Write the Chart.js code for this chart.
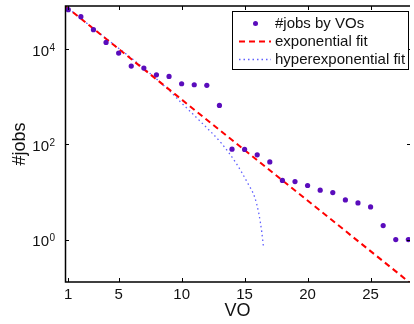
<!DOCTYPE html>
<html>
<head>
<meta charset="utf-8">
<script src="https://cdn.jsdelivr.net/npm/chart.js@4/dist/chart.umd.min.js"></script>
<style>
    html, body { margin: 0; padding: 0; background: #fff; }
    #wrap { width: 414px; height: 324px; }
</style>
</head>
<body>
<div id="wrap"><canvas id="jobs-chart" width="414" height="324"></canvas></div>
<script>
// Data
const voIndex = [1, 2, 3, 4, 5, 6, 7, 8, 9, 10, 11, 12, 13, 14, 15, 16, 17, 18, 19, 20, 21, 22, 23, 24, 25, 26, 27, 28];
const jobsByVO = [68200, 48600, 25900, 14000, 8360, 4450, 4040, 2920, 2700, 1890, 1800, 1750, 662, 79.6, 78.5, 60.4, 43, 17.5, 16.6, 13.7, 10.9, 9.75, 6.8, 5.9, 4.85, 1.97, 1, 1];

const expFitX = [0.75, 28.1];
const expFitY = [81600, 0.125];

const hypFitX = [0.75, 4, 7, 8.98, 9.9, 11.6, 13.17, 14.34, 15.26, 15.79, 16.13, 16.36, 16.51];
const hypFitY = [81600, 17000, 4000, 1390, 789, 285, 105, 39.8, 15.1, 7.9, 3.5, 1.45, 0.65];

const xTicks = [1, 5, 10, 15, 20, 25];
const yTicks = [1, 100, 10000];
const yTickExp = ['0', '2', '4'];

const seriesLabels = ['#jobs by VOs', 'exponential fit', 'hyperexponential fit'];

const FONT = "'Liberation Sans', Arial, sans-serif";
const DOT_COLOR = '#5a0cbc';
const EXP_COLOR = '#ff0000';
const HYP_COLOR = '#5f5fff';

function toPoints(xs, ys) {
    return xs.map((x, i) => ({ x: x, y: ys[i] }));
}

// ==========================================================
// AXES, TICKS, TITLES AND LEGEND (drawn by hand, matlab-like)
// ==========================================================
const frameDecor = {
    id: 'frameDecor',
    afterDraw(chart) {
        const ctx = chart.ctx;
        const area = chart.chartArea;
        const xs = chart.scales.x;
        const ys = chart.scales.y;

        ctx.save();
        ctx.strokeStyle = '#000';
        ctx.lineWidth = 1.5;
        ctx.beginPath();
        ctx.moveTo(area.right, area.top);
        ctx.lineTo(area.left + 0.5, area.top);
        ctx.lineTo(area.left + 0.5, area.bottom);
        ctx.lineTo(area.right, area.bottom);
        ctx.stroke();

        // inward ticks
        ctx.lineWidth = 1;
        ctx.beginPath();
        xTicks.forEach(v => {
            const px = Math.round(xs.getPixelForValue(v)) + 0.5;
            ctx.moveTo(px, area.bottom);
            ctx.lineTo(px, area.bottom - 4);
            ctx.moveTo(px, area.top);
            ctx.lineTo(px, area.top + 4);
        });
        yTicks.forEach(v => {
            const py = Math.round(ys.getPixelForValue(v)) + 0.5;
            ctx.moveTo(area.left, py);
            ctx.lineTo(area.left + 4, py);
            ctx.moveTo(area.right, py);
            ctx.lineTo(area.right - 3, py);
        });
        ctx.stroke();

        // tick labels
        ctx.fillStyle = '#111';
        ctx.font = '15px ' + FONT;
        ctx.textAlign = 'center';
        ctx.textBaseline = 'middle';
        xTicks.forEach(v => {
            ctx.fillText(String(v), xs.getPixelForValue(v), area.bottom + 12.5);
        });
        yTicks.forEach((v, i) => {
            const py = ys.getPixelForValue(v);
            ctx.font = '15px ' + FONT;
            ctx.textAlign = 'right';
            ctx.textBaseline = 'alphabetic';
            ctx.fillText('10', 49, py + 6.5);
            ctx.font = '10px ' + FONT;
            ctx.textAlign = 'left';
            ctx.fillText(yTickExp[i], 49.5, py + 1.5);
        });

        // axis titles
        ctx.font = '18px ' + FONT;
        ctx.textAlign = 'center';
        ctx.textBaseline = 'middle';
        ctx.fillText('VO', (area.left + area.right) / 2, 311);
        ctx.save();
        ctx.translate(20, (area.top + area.bottom) / 2);
        ctx.rotate(-Math.PI / 2);
        ctx.fillText('#jobs', 0, 0);
        ctx.restore();

        // legend box
        const box = { x: 232.5, y: 11.5, w: 176, h: 58 };
        ctx.fillStyle = '#fff';
        ctx.fillRect(box.x, box.y, box.w, box.h);
        ctx.strokeStyle = '#000';
        ctx.lineWidth = 1;
        ctx.strokeRect(box.x, box.y, box.w, box.h);

        const rowY = [23.5, 41.5, 59.5];
        // dot
        ctx.fillStyle = DOT_COLOR;
        ctx.beginPath();
        ctx.arc(255.5, rowY[0], 2.5, 0, Math.PI * 2);
        ctx.fill();
        // dashed
        ctx.strokeStyle = EXP_COLOR;
        ctx.lineWidth = 2;
        ctx.setLineDash([6, 4]);
        ctx.beginPath();
        ctx.moveTo(239, rowY[1]);
        ctx.lineTo(271, rowY[1]);
        ctx.stroke();
        // dotted
        ctx.strokeStyle = HYP_COLOR;
        ctx.lineWidth = 1.3;
        ctx.setLineDash([1.5, 3]);
        ctx.beginPath();
        ctx.moveTo(239, rowY[2]);
        ctx.lineTo(271, rowY[2]);
        ctx.stroke();
        ctx.setLineDash([]);

        ctx.fillStyle = '#111';
        ctx.font = '15px ' + FONT;
        ctx.textAlign = 'left';
        ctx.textBaseline = 'middle';
        seriesLabels.forEach((lbl, i) => {
            ctx.fillText(lbl, 275, rowY[i]);
        });
        ctx.restore();
    }
};

// ==========================================================
// CHART
// ==========================================================
const ctx = document.getElementById('jobs-chart');

new Chart(ctx, {
    type: 'scatter',
    data: {
        datasets: [
            {
                label: seriesLabels[0],
                data: toPoints(voIndex, jobsByVO),
                showLine: false,
                pointRadius: 2.6,
                pointBackgroundColor: DOT_COLOR,
                pointBorderWidth: 0,
                order: 0
            },
            {
                label: seriesLabels[1],
                data: toPoints(expFitX, expFitY),
                showLine: true,
                borderColor: EXP_COLOR,
                borderWidth: 2,
                borderDash: [6, 4],
                pointRadius: 0,
                order: 1
            },
            {
                label: seriesLabels[2],
                data: toPoints(hypFitX, hypFitY),
                showLine: true,
                borderColor: HYP_COLOR,
                borderWidth: 1.3,
                borderDash: [1.5, 3],
                cubicInterpolationMode: 'monotone',
                pointRadius: 0,
                order: 2
            }
        ]
    },
    options: {
        responsive: false,
        animation: false,
        layout: { padding: { left: 65, top: 6, right: 0, bottom: 42 } },
        plugins: {
            legend: { display: false },
            tooltip: { enabled: false }
        },
        scales: {
            x: { type: 'linear', min: 0.74, max: 28.13, display: false },
            y: { type: 'logarithmic', min: 0.128, max: 81660, display: false }
        }
    },
    plugins: [frameDecor]
});
</script>
</body>
</html>
